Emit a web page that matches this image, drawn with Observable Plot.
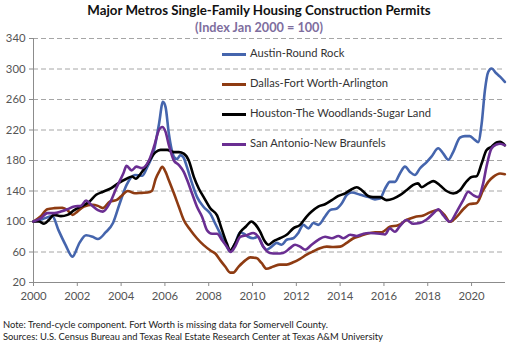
<!DOCTYPE html>
<html>
<head>
<meta charset="utf-8">
<script src="https://cdn.jsdelivr.net/npm/d3@7"></script>
<script src="https://cdn.jsdelivr.net/npm/@observablehq/plot@0.6"></script>
<style>
  body { margin: 0; background: #fff; }
  #wrap { position: relative; width: 512px; height: 348px; font-family: Lato, "Open Sans", sans-serif; overflow: hidden; }
  #title { position: absolute; top: 2px; left: 0; width: 518px; text-align: center; font-weight: bold; font-size: 13.3px; color: #111; }
  #subtitle { position: absolute; top: 19px; left: 0; width: 518px; text-align: center; font-weight: bold; font-size: 12.7px; color: #7e6e9e; }
  #chart { position: absolute; top: 24px; left: 0; }
  #legend { position: absolute; left: 222px; top: 46px; font-size: 11.2px; color: #333; }
  #legend .item { position: relative; height: 30px; }
  #legend .sw { position: absolute; left: 0; top: 7px; width: 24px; height: 3px; }
  #legend .lab { position: absolute; left: 28px; top: 0; white-space: nowrap; }
  .foot { position: absolute; left: 3px; font-size: 9.4px; color: #222; white-space: nowrap; }
</style>
</head>
<body>
<div id="wrap">
  <div id="title">Major Metros Single-Family Housing Construction Permits</div>
  <div id="subtitle">(Index Jan 2000 = 100)</div>
  <div id="chart"></div>
  <div id="legend"></div>
  <div class="foot" style="top:319px">Note: Trend-cycle component. Fort Worth is missing data for Somervell County.</div>
  <div class="foot" style="top:331px">Sources: U.S. Census Bureau and Texas Real Estate Research Center at Texas A&amp;M University</div>
</div>
<script>
const seriesNames = ["Austin-Round Rock", "Dallas-Fort Worth-Arlington", "Houston-The Woodlands-Sugar Land", "San Antonio-New Braunfels"];
const seriesColors = ["#4565ad", "#8e3b12", "#000000", "#6a2e92"];
const xTicks = [2000, 2002, 2004, 2006, 2008, 2010, 2012, 2014, 2016, 2018, 2020];
const yTicks = [20, 60, 100, 140, 180, 220, 260, 300, 340];

// [decimal year, index value]
const austin = [[2000,100],[2000.4,103],[2000.86,107],[2001.15,88],[2001.45,70],[2001.78,54],[2002.1,72],[2002.4,82],[2002.7,80],[2002.94,77],[2003.3,86],[2003.63,98],[2003.94,124],[2004.25,148],[2004.63,161],[2004.97,160],[2005.2,172],[2005.5,193],[2005.73,228],[2005.91,257],[2006.03,250],[2006.18,215],[2006.41,185],[2006.55,182],[2006.71,187],[2006.85,184],[2007.0,172],[2007.24,150],[2007.47,132],[2007.77,119],[2008.08,110],[2008.3,97],[2008.53,84],[2008.76,71],[2008.98,61],[2009.2,71],[2009.44,86],[2009.6,84],[2009.8,80],[2010.03,78],[2010.25,80],[2010.49,67],[2010.64,63],[2010.87,67],[2011.1,72],[2011.33,69.5],[2011.56,76],[2011.86,78],[2012.09,85],[2012.32,95.6],[2012.55,91],[2012.78,98],[2013.0,95.6],[2013.31,106.5],[2013.54,115],[2013.85,117],[2014.08,124],[2014.31,135],[2014.53,138],[2014.92,135],[2015.3,132],[2015.59,129],[2015.82,130],[2016.05,143],[2016.27,152],[2016.5,152],[2016.73,163],[2016.96,172],[2017.19,165],[2017.41,161],[2017.64,169.5],[2017.95,178],[2018.17,185],[2018.48,196],[2018.71,189],[2018.94,181],[2019.16,191],[2019.47,210],[2019.7,212],[2019.92,212],[2020.15,207],[2020.3,204],[2020.46,228],[2020.61,272],[2020.76,296],[2020.91,300.6],[2021.14,294],[2021.3,290],[2021.52,283]];

const dallas = [[2000,100],[2000.32,106.5],[2000.63,116],[2000.95,117.5],[2001.32,118],[2001.55,115],[2001.78,108.7],[2002.0,113],[2002.3,119.7],[2002.7,122],[2002.94,120.5],[2003.17,117.5],[2003.48,126],[2003.78,128],[2004.0,133],[2004.3,140],[2004.63,137],[2004.94,137.6],[2005.2,138],[2005.4,140],[2005.58,156],[2005.73,165],[2005.88,171.7],[2006.03,165],[2006.18,154],[2006.41,137],[2006.64,119],[2006.86,102],[2007.17,88.6],[2007.47,77.7],[2007.77,69],[2008.08,62],[2008.3,58],[2008.53,49],[2008.76,40.6],[2008.98,33],[2009.12,33],[2009.36,40.6],[2009.67,49],[2009.9,53],[2010.18,52],[2010.41,45.6],[2010.64,38],[2010.95,41],[2011.25,43.5],[2011.56,43.5],[2011.86,46.5],[2012.17,51],[2012.47,56.5],[2012.78,61],[2013.08,65],[2013.39,67],[2013.7,66.5],[2014.0,67],[2014.3,72],[2014.61,78],[2014.92,81],[2015.22,84],[2015.6,86],[2015.9,86],[2016.27,93],[2016.65,95],[2017.03,102],[2017.41,106],[2017.8,108],[2018.1,112],[2018.48,115],[2018.78,108],[2019.0,99.6],[2019.32,106],[2019.62,116],[2019.92,123],[2020.23,124],[2020.53,141],[2020.76,152],[2020.99,158.5],[2021.3,163],[2021.52,162]];

const houston = [[2000,100],[2000.25,100],[2000.48,97],[2000.7,102],[2000.94,108.7],[2001.25,107],[2001.55,108.7],[2001.86,115],[2002.17,119.7],[2002.55,126],[2002.86,135],[2003.17,139],[2003.55,143.7],[2003.86,150],[2004.25,156],[2004.5,159],[2004.67,156],[2004.9,163],[2005.12,171.7],[2005.35,182.6],[2005.58,191],[2005.8,194],[2006.1,194],[2006.41,191],[2006.64,191],[2006.86,189],[2007.09,180],[2007.32,158.5],[2007.55,143],[2007.77,132],[2008.08,117],[2008.38,108],[2008.61,88.6],[2008.83,71],[2008.98,62],[2009.2,71],[2009.44,86],[2009.7,93.5],[2009.95,100],[2010.1,97],[2010.34,87],[2010.56,74],[2010.72,69.5],[2010.95,74],[2011.25,78],[2011.56,82.6],[2011.86,91],[2012.17,95.6],[2012.47,106.5],[2012.7,113],[2013.0,119.6],[2013.31,122.6],[2013.62,128],[2013.92,133.5],[2014.23,137],[2014.46,141],[2014.76,145],[2014.99,141],[2015.3,133],[2015.5,132],[2015.82,132],[2016.12,128],[2016.43,130],[2016.73,134.5],[2017.03,141],[2017.34,148],[2017.55,150],[2017.72,145],[2018.02,150],[2018.25,153],[2018.55,147.6],[2018.86,140],[2019.16,136.7],[2019.47,141],[2019.7,150],[2020.0,158.5],[2020.23,159.4],[2020.46,176],[2020.68,193.5],[2020.91,198],[2021.14,203.6],[2021.3,204.4],[2021.52,200]];

const sanAntonio = [[2000,100],[2000.32,104],[2000.63,111],[2000.94,111],[2001.25,113],[2001.55,116],[2001.86,119.7],[2002.17,120.5],[2002.4,127.5],[2002.63,122],[2002.94,115],[2003.17,113],[2003.48,124],[2003.78,143.7],[2004.1,163],[2004.25,173],[2004.48,167],[2004.7,172],[2004.95,170],[2005.27,180],[2005.5,198],[2005.73,220],[2005.88,224],[2006.03,217.5],[2006.18,200],[2006.41,180],[2006.64,174],[2006.86,165],[2007.02,154],[2007.24,136.7],[2007.47,119],[2007.7,106],[2007.92,88.6],[2008.15,84],[2008.38,84],[2008.61,75.5],[2008.83,67],[2009.0,60],[2009.2,67],[2009.44,80],[2009.74,82],[2010.03,85],[2010.26,80],[2010.49,67],[2010.79,58.7],[2011.1,58],[2011.4,58.7],[2011.71,65],[2011.94,69.5],[2012.17,67],[2012.4,63],[2012.7,69.5],[2013.0,76],[2013.31,80],[2013.62,78],[2013.92,81],[2014.15,78],[2014.46,82.6],[2014.76,81],[2015.07,84],[2015.3,85],[2015.82,84],[2016.05,83],[2016.27,91],[2016.5,86.5],[2016.73,94],[2017.03,102],[2017.34,97],[2017.64,98],[2017.95,102.6],[2018.25,110.5],[2018.48,116],[2018.71,108],[2019.01,99.6],[2019.32,112.7],[2019.62,128],[2019.85,139],[2020.08,134.5],[2020.3,132],[2020.53,150],[2020.68,171.7],[2020.91,195.7],[2021.14,201],[2021.3,202],[2021.52,200]];

const allSeries = [austin, dallas, houston, sanAntonio];
const rows = [];
allSeries.forEach((s, i) => s.forEach(([yr, v]) => rows.push({series: seriesNames[i], year: yr, value: v})));

const chart = Plot.plot({
  width: 512,
  height: 282,
  marginTop: 14,
  marginBottom: 24,
  marginLeft: 33,
  marginRight: 7,
  style: {fontFamily: "Lato, 'Open Sans', sans-serif", fontSize: "11.3px", color: "#555", background: "transparent"},
  x: {domain: [2000, 2021.55], label: null},
  y: {domain: [20, 340], label: null},
  color: {domain: seriesNames, range: seriesColors},
  marks: [
    Plot.ruleY(yTicks.filter(t => t > 20), {stroke: "#a6a6a6", strokeDasharray: "5,3", strokeWidth: 1}),
    Plot.ruleY([20], {stroke: "#8c8c8c", strokeWidth: 1}),
    Plot.ruleX([2000], {stroke: "#8c8c8c", strokeWidth: 1}),
    Plot.axisY({ticks: yTicks, tickSize: 4, tickPadding: 4, stroke: "#8c8c8c", fill: "#555", label: null}),
    Plot.axisX({ticks: xTicks, tickSize: 4, tickPadding: 5, tickFormat: d => String(d), stroke: "#8c8c8c", fill: "#555", label: null}),
    Plot.line(rows, {x: "year", y: "value", z: "series", stroke: "series", strokeWidth: 2.6, curve: "monotone-x"})
  ]
});
document.getElementById("chart").appendChild(chart);

const legend = document.getElementById("legend");
seriesNames.forEach((name, i) => {
  const item = document.createElement("div");
  item.className = "item";
  item.innerHTML = `<div class="sw" style="background:${seriesColors[i]}"></div><div class="lab">${name}</div>`;
  legend.appendChild(item);
});
</script>
</body>
</html>
